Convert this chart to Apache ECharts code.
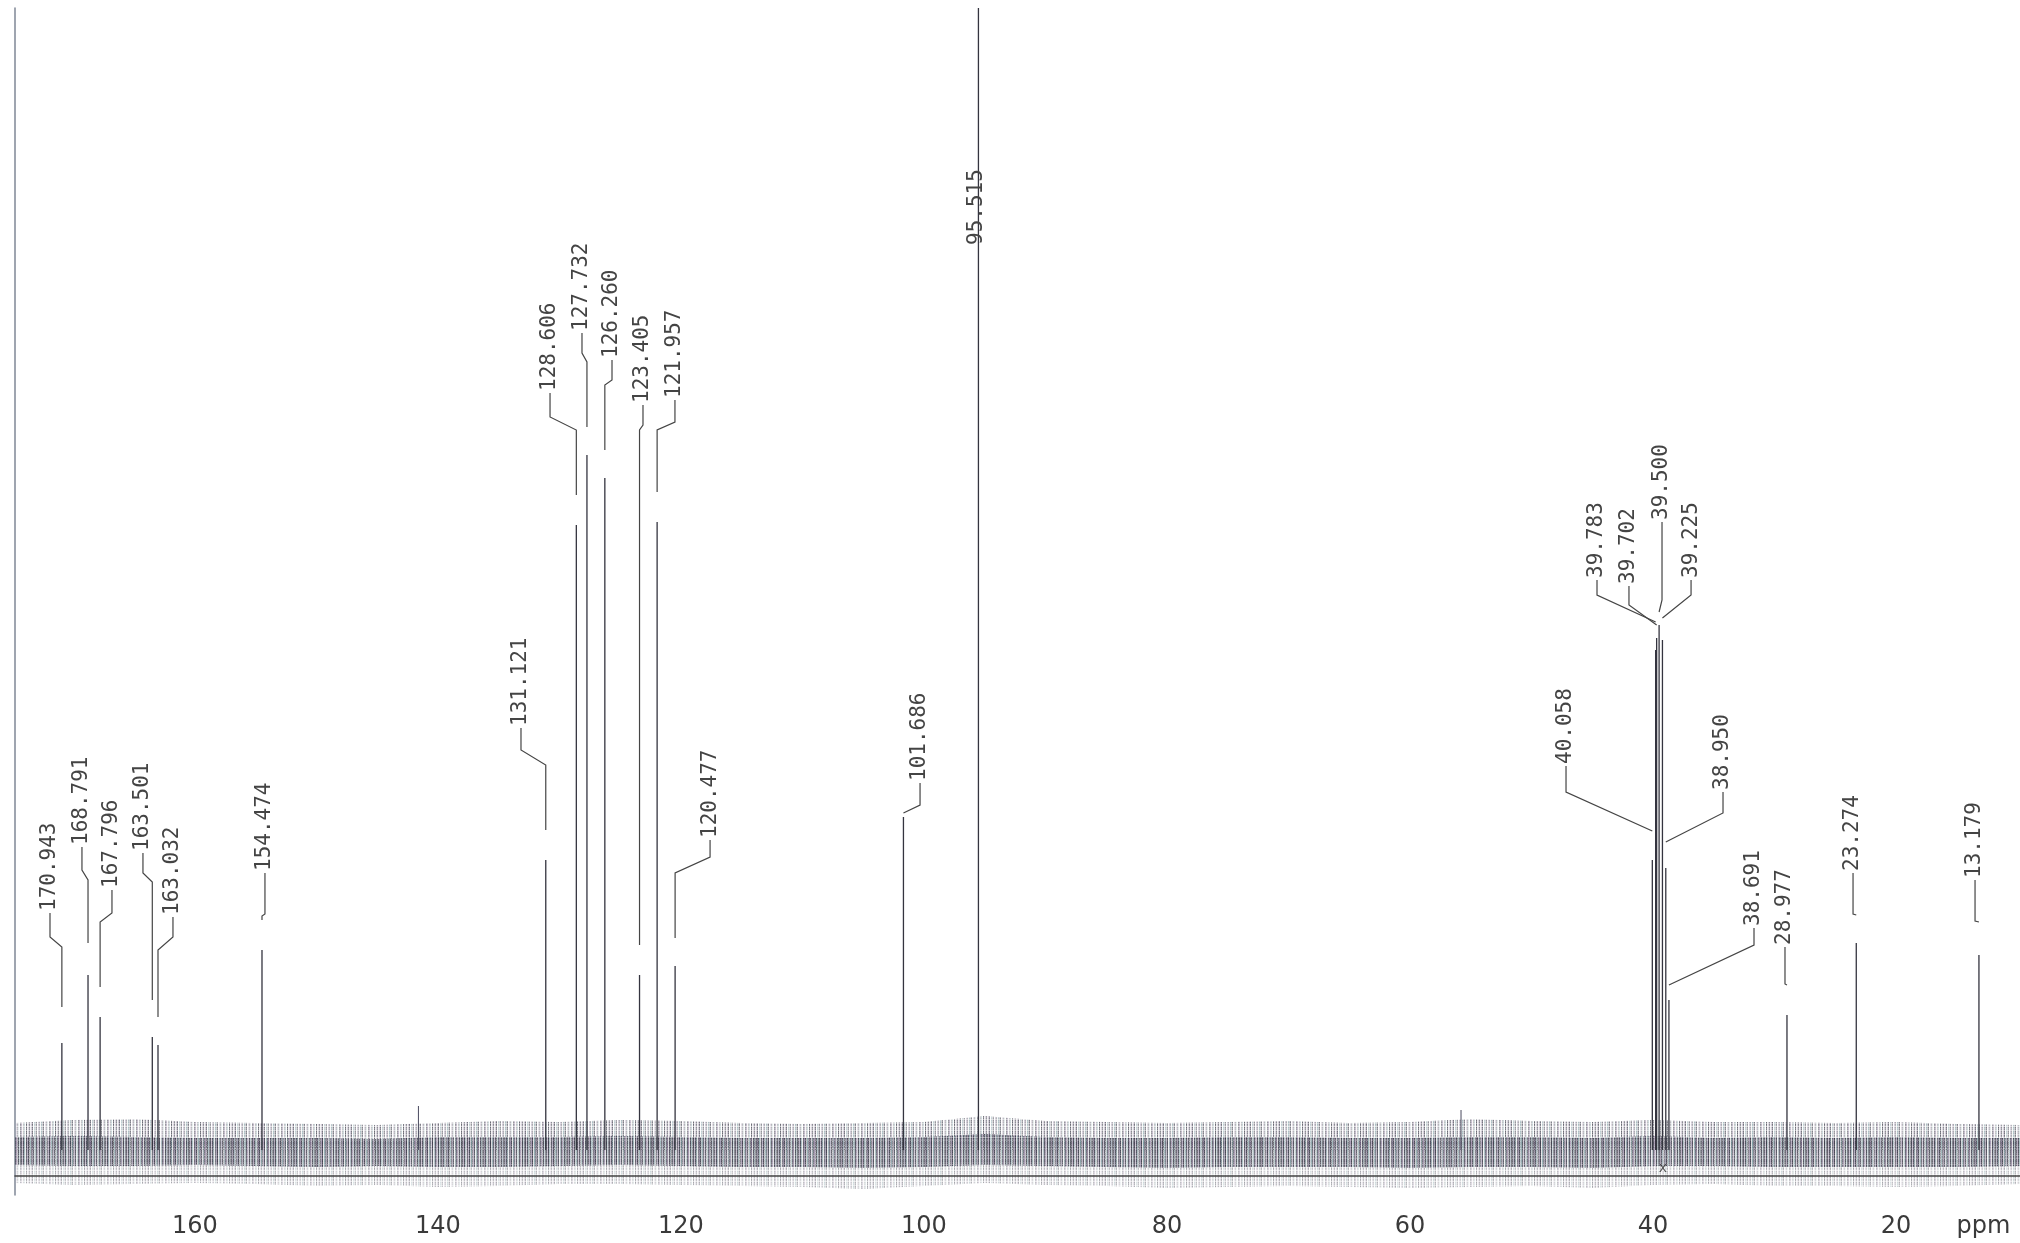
<!DOCTYPE html>
<html>
<head>
<meta charset="utf-8">
<script src="https://cdn.jsdelivr.net/npm/echarts@6/dist/echarts.min.js"></script>
<style>
html,body{margin:0;padding:0;background:#ffffff;}
#chart{width:2020px;height:1243px;}
</style>
</head>
<body>
<div id="chart"></div>
<script>
// ---------------- data ----------------
const peakPpm = [170.943, 168.791, 167.796, 163.501, 163.032, 154.474, 131.121, 128.606, 127.732, 126.260,
                 123.405, 121.957, 120.477, 101.686, 95.515, 40.058, 39.783, 39.702, 39.500, 39.225,
                 38.950, 38.691, 28.977, 23.274, 13.179];
const peakHeight = [107, 175, 133, 113, 105, 200, 290, 625, 695, 672,
                    175, 628, 184, 333, 1142, 290, 500, 512, 525, 510,
                    282, 150, 135, 207, 195];

const tickValues = [160, 140, 120, 100, 80, 60, 40, 20];
const axisUnit = 'ppm';

// noise band envelope (spike tips and dense core), sampled every 5 ppm
const noisePpm    = [175,170,165,160,155,150,145,140,135,130,125,120,115,110,105,100,95,90,85,80,75,70,65,60,55,50,45,40,35,30,25,20,15,9.8];
const noiseTop    = [27,30,31,28,27,26,25,27,29,28,30,29,27,26,27,28,34,29,28,27,28,29,27,28,31,29,28,30,28,28,27,28,26,25];
const noiseBottom = [-33,-35,-34,-33,-34,-36,-35,-37,-36,-34,-34,-35,-36,-37,-39,-36,-33,-35,-36,-38,-37,-36,-37,-38,-37,-36,-38,-35,-34,-36,-36,-37,-36,-34];
const coreTop     = [13,14,13,12,12,12,11,13,13,13,14,13,12,12,12,13,16,13,12,12,13,13,12,12,13,13,12,14,12,13,12,13,12,12];
const coreBottom  = [-15,-16,-16,-15,-16,-17,-16,-17,-17,-16,-15,-16,-17,-17,-18,-17,-15,-16,-17,-18,-17,-17,-17,-18,-17,-17,-18,-16,-16,-17,-17,-17,-17,-16];

// isolated tall noise spikes
const spikePpm   = [141.6, 55.8];
const spikeValue = [44, 40];

// reference marker under the solvent multiplet
const refMarkPpm = 39.18;

// ---------------- label layout (positions in ppm / intensity units) ----------------
// [textPpm, textBottom, stubEnd, kinkEnd (at peak), leaderEnd (at peak)]
const labelLayout = [
  [171.92, 237, 213, 203, 143],
  [169.29, 303, 280, 270, 207],
  [166.82, 260, 237, 228, 163],
  [164.27, 297, 277, 268, 150],
  [161.80, 233, 213, 200, 133],
  [154.23, 277, 236, 234, 230],
  [133.16, 422, 400, 385, 320],
  [130.77, 757, 733, 720, 655],
  [128.14, 817, 797, 788, 723],
  [125.67, 790, 770, 765, 700],
  [123.12, 745, 725, 720, 205],
  [120.49, 750, 728, 720, 658],
  [117.60, 310, 293, 277, 212],
  [100.32, 367, 345, 337, 337],
  [95.63, 903, null, null, null],
  [47.16, 384, 358, 319, 319],
  [44.61, 570, 555, 528, 528],
  [41.98, 564, 545, 525, 525],
  [39.26, 628, 550, 538, 538],
  [36.87, 570, 555, 532, 532],
  [34.24, 358, 337, 308, 308],
  [31.69, 222, 205, 165, 165],
  [29.14, 203, 166, 165, 165],
  [23.54, 277, 236, 235, 235],
  [13.50, 270, 229, 228, 228]
];

// ---------------- textures for the noise band ----------------
function texture(cols, rows) {
  const c = document.createElement('canvas');
  c.width = cols.length; c.height = rows.length;
  const ctx = c.getContext('2d');
  cols.forEach(function (col, i) {
    rows.forEach(function (r, j) {
      ctx.fillStyle = 'rgba(' + col[0] + ',' + col[1] + ',' + col[2] + ',' + (col[3] * r) + ')';
      ctx.fillRect(i, j, 1, 1);
    });
  });
  return c;
}
const INK = [45, 45, 60], PUR = [95, 70, 115], TEAL = [70, 115, 125], GRY = [110, 110, 120];
function ink(c, a) { return [c[0], c[1], c[2], a]; }
const outerPattern = texture([
  ink(INK,.55), ink(GRY,.1), ink(PUR,.3), ink(INK,.65), ink(GRY,0), ink(TEAL,.35), ink(INK,.2),
  ink(INK,.5), ink(GRY,0), ink(PUR,.3), ink(INK,.4), ink(GRY,.05), ink(TEAL,.45), ink(INK,.25),
  ink(INK,.6), ink(GRY,0), ink(PUR,.2), ink(INK,.35), ink(TEAL,.15), ink(GRY,0), ink(INK,.5),
  ink(PUR,.4), ink(GRY,.05), ink(INK,.3), ink(TEAL,.3), ink(GRY,0), ink(INK,.7), ink(GRY,.1), ink(PUR,.25)
], [1, .6, 1, .85, .4, 1, .75, .9, .5, 1, .8]);
const corePattern = texture([
  ink(INK,.7), ink(PUR,.35), ink(INK,.8), ink(TEAL,.4), ink(GRY,.15), ink(INK,.6), ink(PUR,.45),
  ink(INK,.85), ink(GRY,.2), ink(TEAL,.5), ink(INK,.55), ink(PUR,.3), ink(INK,.75), ink(GRY,.1),
  ink(TEAL,.35), ink(INK,.65), ink(PUR,.5), ink(GRY,.2), ink(INK,.8), ink(TEAL,.3), ink(INK,.5)
], [1, .8, .95, .6, 1, .85, .7, 1, .9]);

function pairs(xs, ys) { return xs.map(function (x, i) { return [x, ys[i]]; }); }

function bandSeries(values, pattern, opacity) {
  return {
    type: 'line', data: pairs(noisePpm, values), showSymbol: false, silent: true,
    lineStyle: { width: 0 }, areaStyle: { origin: 0, color: { image: pattern, repeat: 'repeat' }, opacity: opacity },
    z: 1, animation: false
  };
}

function renderPeak(params, api) {
  const p = api.value(0), h = api.value(1);
  const a = api.coord([p, 0]), b = api.coord([p, h]);
  return { type: 'line', shape: { x1: a[0], y1: a[1], x2: b[0], y2: b[1] },
           style: { stroke: '#34343f', lineWidth: 1.3 } };
}
function renderSpike(params, api) {
  const p = api.value(0), h = api.value(1);
  const a = api.coord([p, 0]), b = api.coord([p, h]);
  return { type: 'line', shape: { x1: a[0], y1: a[1], x2: b[0], y2: b[1] },
           style: { stroke: '#4a4a5e', lineWidth: 1 } };
}
function renderLabel(params, api) {
  const i = params.dataIndex;
  const L = labelLayout[i];
  const pk = peakPpm[i];
  const t = api.coord([L[0], L[1]]);
  const children = [];
  if (L[2] != null) {
    const s = api.coord([L[0], L[2]]);
    const k = api.coord([pk, L[3]]);
    const e = api.coord([pk, L[4]]);
    children.push({ type: 'polyline',
      shape: { points: [[t[0], t[1]], [s[0], s[1]], [k[0], k[1]], [e[0], e[1]]] },
      style: { stroke: '#454545', lineWidth: 1.2, fill: null } });
  }
  children.push({ type: 'text', x: t[0], y: t[1] - 2, rotation: Math.PI / 2,
    style: { text: pk.toFixed(3), fontFamily: 'DejaVu Sans Mono', fontSize: 21, fill: '#444444',
             align: 'left', verticalAlign: 'middle' } });
  return { type: 'group', children: children };
}

const chart = echarts.init(document.getElementById('chart'), null, { renderer: 'canvas' });
chart.setOption({
  animation: false,
  backgroundColor: '#ffffff',
  grid: { left: 15, right: 0, top: 8, bottom: 48 },
  xAxis: {
    type: 'value', inverse: true, min: 9.8, max: 174.8, offset: -19, z: 10,
    axisLine: { show: true, onZero: false, lineStyle: { color: '#444444', width: 1.6 } },
    axisTick: { show: false }, splitLine: { show: false },
    axisLabel: {
      customValues: tickValues.concat([12.8]),
      formatter: function (v) { return v < 15 ? axisUnit : String(v); },
      margin: 39, fontFamily: 'DejaVu Sans', fontSize: 24, color: '#3a3a3a'
    }
  },
  yAxis: {
    type: 'value', min: -45, max: 1142,
    axisLine: { show: true, onZero: false, lineStyle: { color: '#7f8796', width: 1.5 } },
    axisTick: { show: false }, axisLabel: { show: false }, splitLine: { show: false }
  },
  series: [
    bandSeries(noiseTop, outerPattern, 1),
    bandSeries(noiseBottom, outerPattern, 0.6),
    bandSeries(coreTop, corePattern, 1),
    bandSeries(coreBottom, corePattern, 1),
    { type: 'custom', renderItem: renderSpike, data: pairs(spikePpm, spikeValue), z: 2, silent: true },
    { type: 'custom', renderItem: renderPeak, data: pairs(peakPpm, peakHeight), z: 3, silent: true, clip: true },
    { type: 'custom', renderItem: renderLabel, data: labelLayout.map(function (r) { return [r[0], r[1]]; }), z: 4, silent: true, clip: false },
    { type: 'scatter', data: [[refMarkPpm, -18]], symbolSize: 1, itemStyle: { color: 'rgba(0,0,0,0)' }, silent: true, z: 5,
      label: { show: true, position: 'inside', formatter: 'x', fontFamily: 'DejaVu Sans', fontSize: 14, color: '#333' } }
  ]
});
</script>
</body>
</html>
